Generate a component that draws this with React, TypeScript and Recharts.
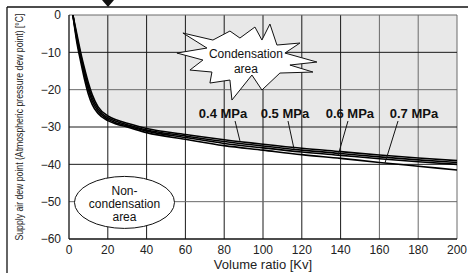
import {
  ComposedChart,
  Area,
  Line,
  XAxis,
  YAxis,
  ReferenceLine,
  ReferenceDot,
} from 'recharts'

// ─── Data ─────────────────────────────────────────────────────────────────────

const KV = [2, 4, 6, 8, 10, 12, 15, 20, 25, 30, 40, 60, 80, 100, 120, 140, 160, 180, 200]

const DEW_04 = [0, -5, -10, -14.3, -18.2, -21.4, -24.6, -27.0, -28.2, -29.0, -30.4, -32.0, -33.4, -34.6, -35.7, -36.6, -37.5, -38.3, -39.0]
const DEW_05 = [0, -5.7, -10.7, -15.2, -19.2, -22.3, -25.2, -27.5, -28.6, -29.4, -30.8, -32.4, -33.9, -35.1, -36.2, -37.1, -38.0, -38.8, -39.5]
const DEW_06 = [0, -6.4, -11.5, -16.1, -20.1, -23.1, -25.8, -27.9, -29.0, -29.7, -31.1, -32.8, -34.4, -35.6, -36.7, -37.6, -38.5, -39.3, -40.0]
const DEW_07 = [0, -7.2, -12.4, -17.2, -21.2, -24.0, -26.4, -28.3, -29.3, -30.0, -31.5, -33.3, -35.0, -36.2, -37.4, -38.4, -39.5, -40.5, -41.5]

const X_TICKS = [0, 20, 40, 60, 80, 100, 120, 140, 160, 180, 200]
const Y_TICKS = [0, -10, -20, -30, -40, -50, -60]

// grid lines that print lighter in the original
const LIGHT_X = [160, 180, 200]
const LIGHT_Y = [-20, -50, 0]

// pressure labels and their leader lines (label pos, leader start, leader end)
const PRESSURES = ['0.4 MPa', '0.5 MPa', '0.6 MPa', '0.7 MPa']
const LABEL_X = [79.4, 111.3, 144.8, 177.8]
const LABEL_Y = -26.5
const LEADER_FROM_X = [85.6, 112.9, 143.8, 169.6]
const LEADER_TO_X = [88.1, 116, 138.7, 162.9]
const LEADER_TO_Y = [-33.7, -35.9, -37.6, -39.6]
const LEADER_FROM_Y = -28.4

const STAR_AT = { x: 91.2, y: -12.6 }
const OVAL_AT = { x: 28.6, y: -50.2 }

const data = KV.map((kv, i) => ({
  kv,
  p04: DEW_04[i],
  p05: DEW_05[i],
  p06: DEW_06[i],
  p07: DEW_07[i],
}))

// ─── Helpers ─────────────────────────────────────────────────────────────────

const FONT = '"Liberation Sans", Arial, Helvetica, sans-serif'

function fmt(v: number) {
  return v < 0 ? '\u2212' + Math.abs(v) : String(v)
}

// star outline, relative to its centre (px)
const STAR_PTS = [
  [-63, -29], [-33, -22], [-16, -31], [-6, -24], [9, -35], [16, -22], [24, -38],
  [31, -17], [54, -19], [39, -9], [71, 0], [44, 3], [67, 10], [34, 11], [16, 28],
  [6, 13], [-14, 38], [-16, 18], [-36, 21], [-34, 10], [-56, 8], [-43, -2],
  [-69, -9], [-39, -14],
]

function StarShape(props: any) {
  const { cx, cy } = props
  if (cx == null || cy == null) return null
  const pts = STAR_PTS.map(([dx, dy]) => `${cx + dx},${cy + dy}`).join(' ')
  return (
    <g>
      <polygon points={pts} fill="#fff" stroke="#111" strokeWidth={1} />
      <text x={cx} y={cy - 4} textAnchor="middle" fontSize={12} fontFamily={FONT} fill="#111">
        Condensation
      </text>
      <text x={cx} y={cy + 11} textAnchor="middle" fontSize={12} fontFamily={FONT} fill="#111">
        area
      </text>
    </g>
  )
}

function OvalShape(props: any) {
  const { cx, cy } = props
  if (cx == null || cy == null) return null
  return (
    <g>
      <ellipse cx={cx} cy={cy} rx={50} ry={26} fill="#fff" stroke="#111" strokeWidth={1} />
      {['Non-', 'condensation', 'area'].map((t, i) => (
        <text key={t} x={cx} y={cy - 7 + i * 13} textAnchor="middle" fontSize={12} fontFamily={FONT} fill="#111">
          {t}
        </text>
      ))}
    </g>
  )
}

function labelShape(text: string) {
  return (props: any) => {
    const { cx, cy } = props
    if (cx == null || cy == null) return null
    return (
      <text x={cx} y={cy + 4.5} textAnchor="middle" fontSize={13} fontWeight="bold" fontFamily={FONT} fill="#111">
        {text}
      </text>
    )
  }
}

// ─── Component ────────────────────────────────────────────────────────────────

export default function App() {
  return (
    <div style={{ position: 'absolute', left: 0, top: 0, width: 468, height: 273, background: '#fff' }}>
      <ComposedChart
        width={468}
        height={273}
        data={data}
        margin={{ top: 15, right: 11, bottom: 0, left: 0 }}
      >
        <XAxis
          dataKey="kv"
          type="number"
          domain={[0, 200]}
          ticks={X_TICKS}
          tickFormatter={fmt}
          tick={{ fontSize: 12, fill: '#222', fontFamily: FONT }}
          tickLine={false}
          tickSize={4}
          axisLine={{ stroke: '#111', strokeWidth: 1.3 }}
          height={34}
          interval={0}
          allowDataOverflow
        />
        <YAxis
          type="number"
          domain={[-60, 0]}
          ticks={Y_TICKS}
          tickFormatter={fmt}
          tick={{ fontSize: 12, fill: '#222', fontFamily: FONT }}
          tickLine={false}
          axisLine={{ stroke: '#111', strokeWidth: 1.3 }}
          width={69}
          interval={0}
          allowDataOverflow
        />

        <Area
          dataKey="p04"
          baseValue={0}
          type="monotone"
          fill="#e8e8e8"
          fillOpacity={1}
          stroke="none"
          isAnimationActive={false}
        />

        {X_TICKS.filter((v) => v > 0).map((v) => (
          <ReferenceLine
            key={'x' + v}
            x={v}
            stroke={LIGHT_X.includes(v) ? '#6a6a6a' : '#1a1a1a'}
            strokeWidth={1}
          />
        ))}
        {Y_TICKS.filter((v) => v > -60).map((v) => (
          <ReferenceLine
            key={'y' + v}
            y={v}
            stroke={LIGHT_Y.includes(v) ? '#6a6a6a' : '#1a1a1a'}
            strokeWidth={1}
          />
        ))}

        {['p04', 'p05', 'p06', 'p07'].map((k) => (
          <Line
            key={k}
            dataKey={k}
            type="monotone"
            stroke="#000"
            strokeWidth={1.6}
            dot={false}
            isAnimationActive={false}
          />
        ))}

        {PRESSURES.map((p, i) => (
          <ReferenceLine
            key={'lead' + i}
            segment={[
              { x: LEADER_FROM_X[i], y: LEADER_FROM_Y },
              { x: LEADER_TO_X[i], y: LEADER_TO_Y[i] },
            ]}
            stroke="#111"
            strokeWidth={1}
          />
        ))}
        {PRESSURES.map((p, i) => (
          <ReferenceDot key={'lab' + i} x={LABEL_X[i]} y={LABEL_Y} r={0} shape={labelShape(p)} />
        ))}

        <ReferenceDot x={STAR_AT.x} y={STAR_AT.y} r={0} shape={StarShape} />
        <ReferenceDot x={OVAL_AT.x} y={OVAL_AT.y} r={0} shape={OvalShape} />
      </ComposedChart>

      {/* axis titles and page frame */}
      <svg width={468} height={273} style={{ position: 'absolute', left: 0, top: 0, pointerEvents: 'none' }}>
        <line x1={7} y1={7} x2={468} y2={7} stroke="#111" strokeWidth={1.3} />
        <line x1={7} y1={7} x2={7} y2={273} stroke="#111" strokeWidth={1.3} />
        <polygon points="102,0 114,0 108,7" fill="#111" />
        <text
          x={0}
          y={0}
          transform="translate(23,127) rotate(-90) scale(1,1.15)"
          textAnchor="middle"
          fontSize={9}
          fontFamily={FONT}
          fill="#222"
          textLength={227}
          lengthAdjust="spacingAndGlyphs"
        >
          Supply air dew point (Atmospheric pressure dew point) [°C]
        </text>
        <text x={263} y={269} textAnchor="middle" fontSize={13} fontFamily={FONT} fill="#222">
          Volume ratio [Kv]
        </text>
      </svg>
    </div>
  )
}
